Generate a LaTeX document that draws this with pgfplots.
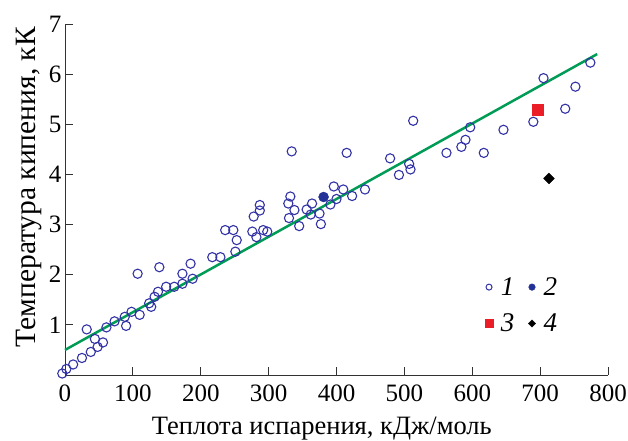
\documentclass[border=0pt]{standalone}
\usepackage{fontspec}
\setmainfont{Liberation Serif}
\usepackage{pgfplots}
\pgfplotsset{compat=1.18}
\definecolor{cblue}{RGB}{50,50,165}
\definecolor{cfill}{RGB}{35,50,150}
\definecolor{cgreen}{RGB}{0,155,85}
\definecolor{cred}{RGB}{235,30,40}
\definecolor{axgray}{RGB}{50,50,50}
\begin{document}
\begin{tikzpicture}
\begin{axis}[
  scale only axis, width=543pt, height=351pt,
  xmin=0, xmax=800, ymin=0, ymax=7,
  axis x line*=bottom, axis y line*=left,
  xtick={0,100,...,800}, ytick={1,...,7},
  tick align=inside, major tick length=8pt,
  tick style={axgray, line width=0.8pt},
  axis line style={axgray, line width=0.8pt},
  ticklabel style={font=\fontsize{25}{28}\selectfont},
  xticklabel style={yshift=-6pt},
  /pgf/number format/assume math mode=true,
  xlabel={Теплота испарения, кДж/моль},
  ylabel={Температура кипения, кК},
  label style={font=\fontsize{26.5}{30}\selectfont},
  xlabel style={at={(ticklabel cs:0.473)}, yshift=-9pt},
  ylabel style={at={(ticklabel cs:0.535)}, font=\fontsize{29.5}{32}\selectfont},
  clip=false,
  legend style={at={(0.768,0.29)}, anchor=north west, draw=none, fill=none,
    font=\fontsize{27}{30}\selectfont\itshape, legend columns=2, row sep=13pt,
    /tikz/every odd column/.append style={column sep=6pt},
    /tikz/every even column/.append style={column sep=12pt}},
]
\addplot[cgreen, line width=2.5pt, forget plot] coordinates {(0,0.50) (784,6.40)};
\addplot[only marks, mark=o, mark size=4.6pt, cblue, mark options={line width=1.1pt}, forget plot] coordinates {
(-4,0.03) (2,0.12) (12,0.21) (25,0.34) (38,0.46) (48,0.56) (56,0.65) (44,0.72) (32,0.91) (61,0.95)
(73,1.07) (90,0.98) (88,1.16) (98,1.26) (107,2.02) (110,1.20) (124,1.43) (127,1.36) (132,1.56) (137,1.66)
(139,2.15) (149,1.76) (161,1.76) (173,2.02) (173,1.82) (185,2.22) (188,1.92) (217,2.35) (229,2.35) (251,2.46)
(236,2.89) (248,2.89) (253,2.69) (276,2.86) (278,3.16) (287,3.28) (287,3.39) (282,2.75) (292,2.89) (298,2.86)
(334,4.46) (332,3.56) (329,3.42) (338,3.29) (330,3.13) (345,2.97) (356,3.30) (362,3.20) (364,3.42) (375,3.22)
(377,3.01) (391,3.40) (396,3.76) (400,3.51) (410,3.70) (423,3.57) (442,3.70) (415,4.43) (479,4.32) (507,4.21)
(509,4.10) (492,3.99) (513,5.07) (562,4.43) (584,4.55) (590,4.69) (597,4.94) (617,4.43) (646,4.89) (690,5.05)
(705,5.92) (737,5.31) (752,5.75) (774,6.23)
};
\addplot[only marks, mark=*, mark size=5pt, cfill, forget plot] coordinates {(381,3.55)};
\addplot[only marks, mark=square*, mark size=5.5pt, cred, forget plot] coordinates {(696,5.30)};
\addplot[only marks, mark=square*, mark size=3.8pt, black, mark options={rotate=45}, forget plot] coordinates {(713,3.92)};
\addlegendimage{only marks, mark=o, mark size=3pt, cblue, mark options={line width=1pt}}
\addlegendentry{1}
\addlegendimage{only marks, mark=*, mark size=3.3pt, cfill}
\addlegendentry{2}
\addlegendimage{only marks, mark=square*, mark size=3.8pt, cred}
\addlegendentry{3}
\addlegendimage{only marks, mark=square*, mark size=2.6pt, black, mark options={rotate=45}}
\addlegendentry{4}
\end{axis}
\pgfresetboundingbox
\path (current axis.south west) ++(-65pt,-65pt) rectangle ++(628pt,440pt);
\end{tikzpicture}
\end{document}
